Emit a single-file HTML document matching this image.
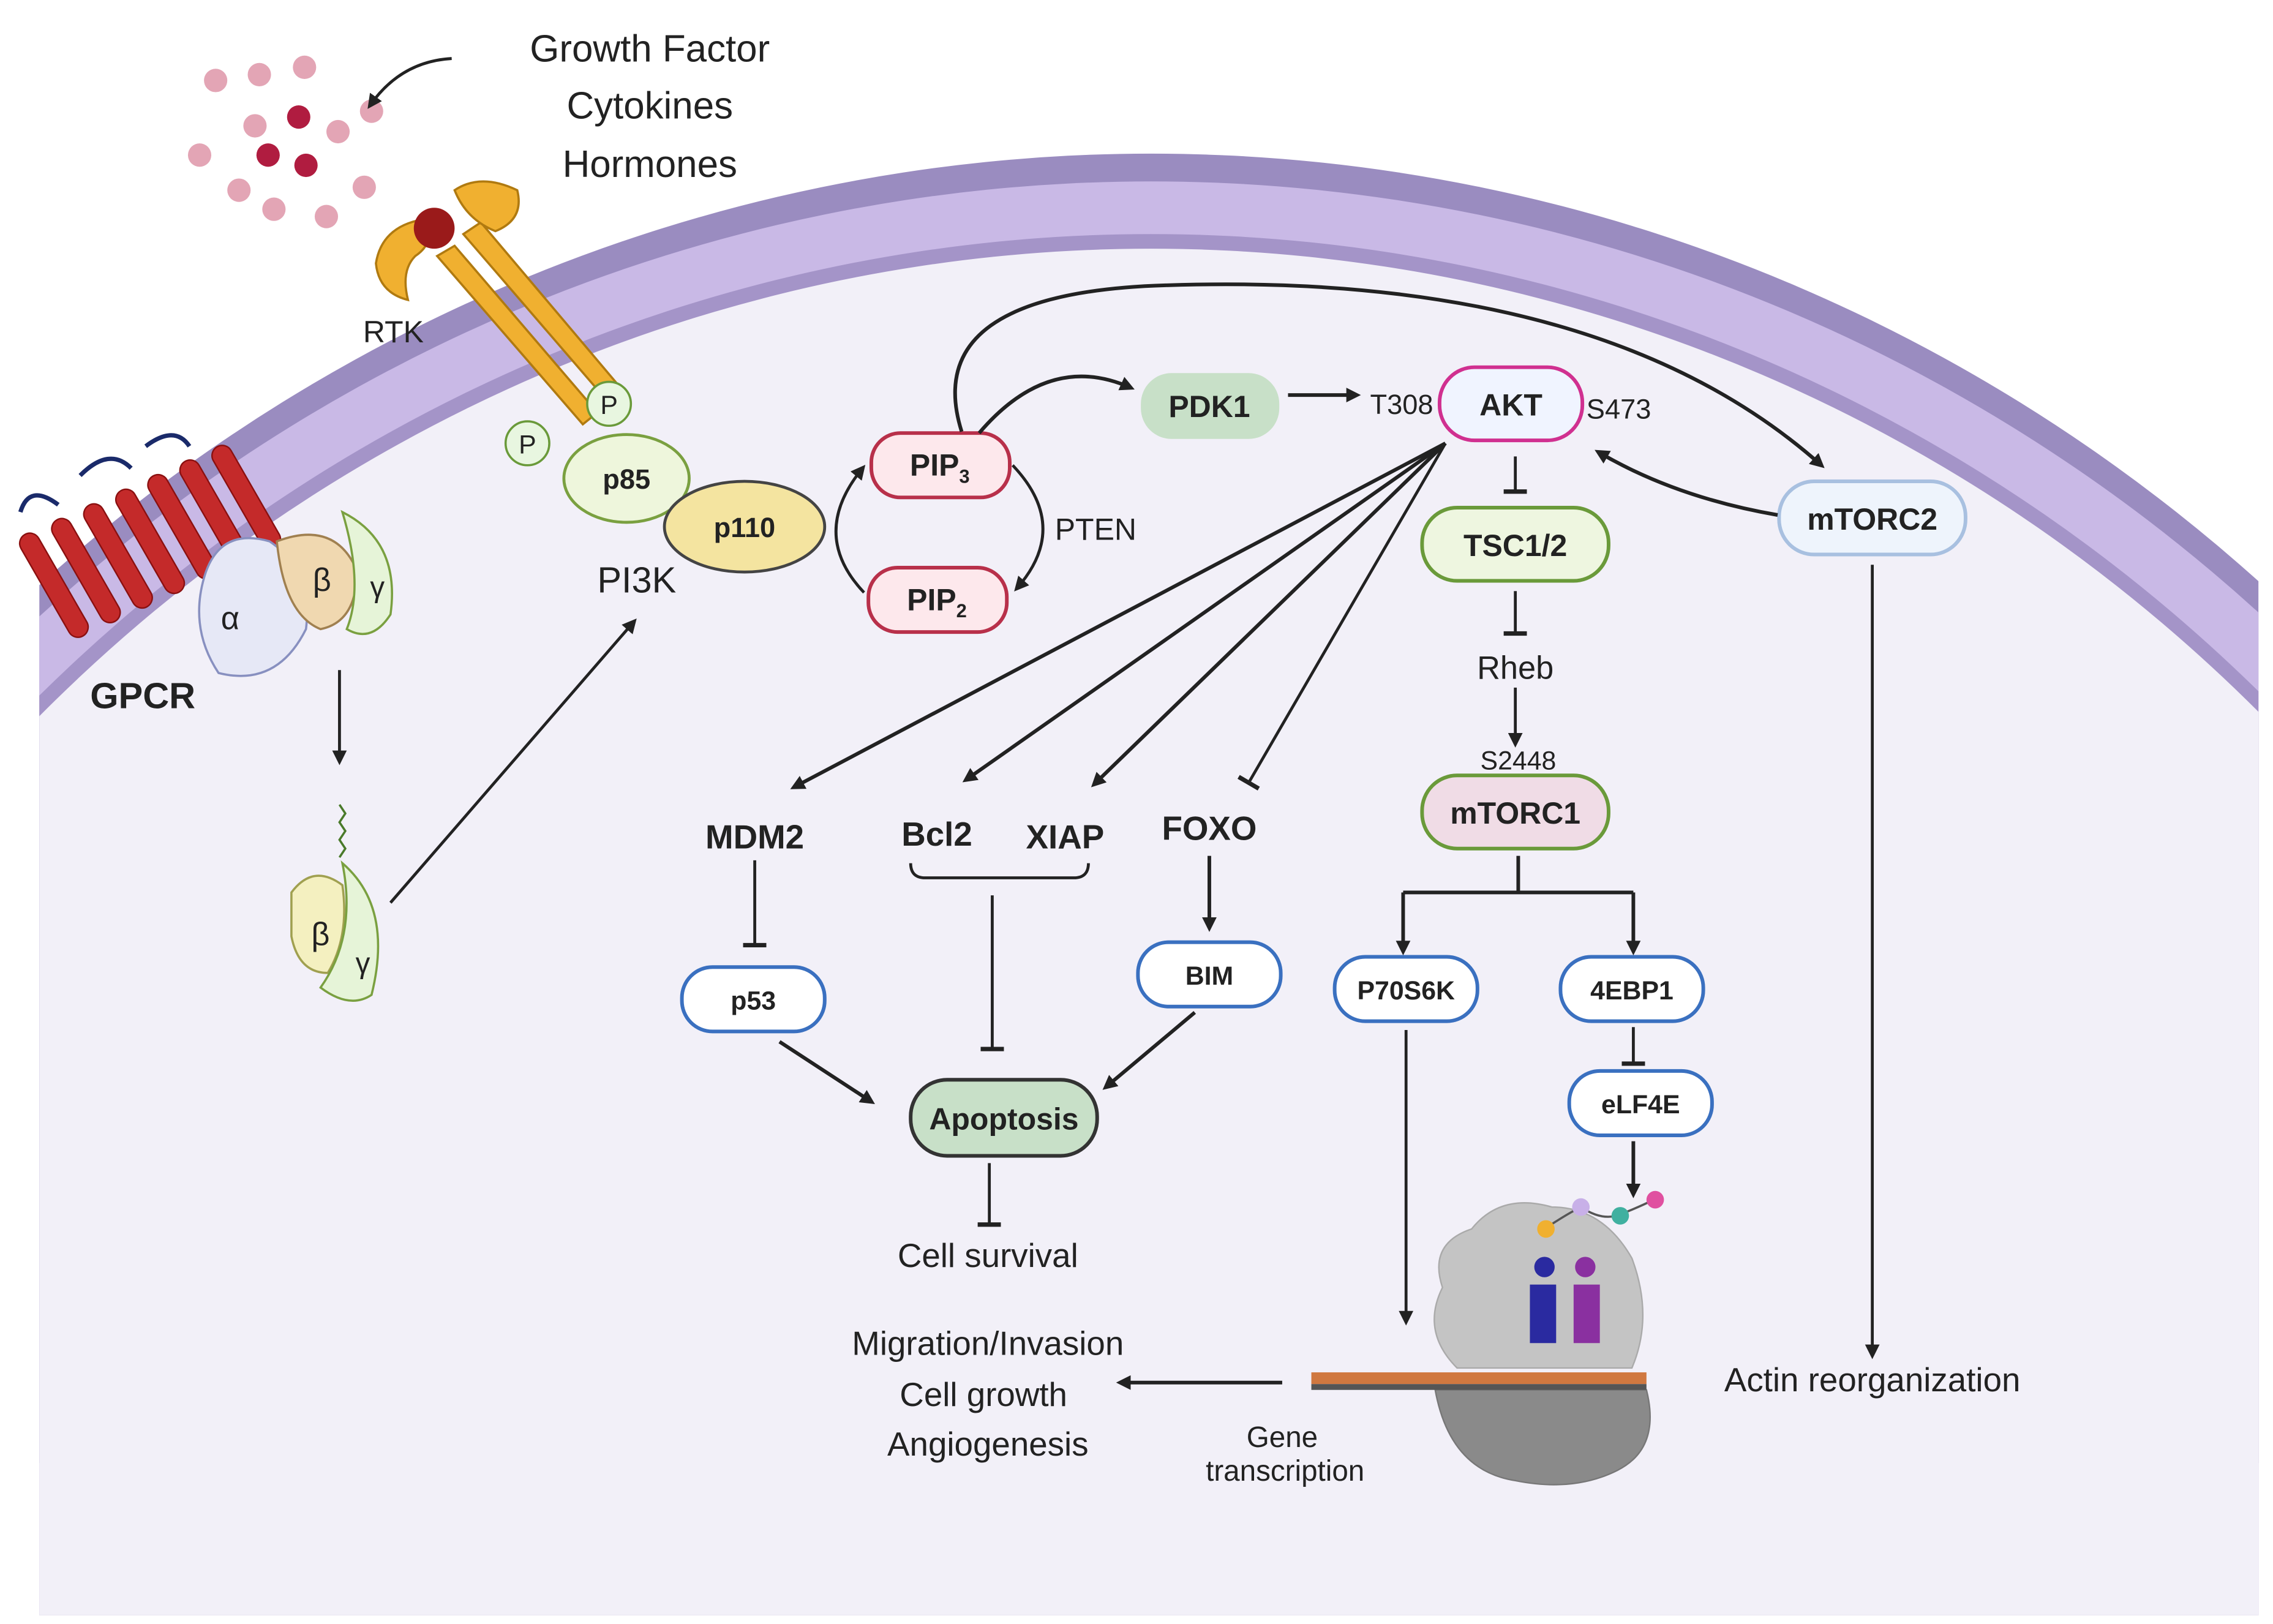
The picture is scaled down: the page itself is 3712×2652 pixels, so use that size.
<!DOCTYPE html>
<html><head><meta charset="utf-8"><style>
html,body{margin:0;padding:0;background:#fff;width:3712px;height:2652px;overflow:hidden;}
svg{display:block;}
text{font-family:"Liberation Sans",sans-serif;fill:#222;}
.b{font-weight:bold;}
</style></head><body>
<svg width="3712" height="2652" viewBox="0 0 1560 1110" preserveAspectRatio="none" xmlns="http://www.w3.org/2000/svg">
<defs>
<marker id="ar" markerWidth="10" markerHeight="10" refX="7" refY="5" orient="auto" markerUnits="userSpaceOnUse" viewBox="0 0 10 10"><path d="M0,0 L10,5 L0,10 z" fill="#222"/></marker>
<marker id="tb" markerWidth="16" markerHeight="16" refX="2" refY="8" orient="auto" markerUnits="userSpaceOnUse" viewBox="0 0 16 16"><path d="M2,0 L2,16" stroke="#222" stroke-width="3"/></marker>
<clipPath id="cl"><rect x="27" y="0" width="1523" height="1104"/></clipPath>
</defs>
<rect width="1560" height="1110" fill="#fff"/>
<g clip-path="url(#cl)">
<ellipse cx="790" cy="1300" rx="1160" ry="1195" fill="#9a8cc0"/>
<ellipse cx="790" cy="1300" rx="1148" ry="1176" fill="#c9b9e6"/>
<ellipse cx="790" cy="1300" rx="1105" ry="1140" fill="#a494c8"/>
<ellipse cx="790" cy="1300" rx="1095" ry="1130" fill="#f2f0f8"/>
</g>
<rect x="27" y="1000" width="1523" height="104" fill="#f2f0f8"/>

<g fill="#e3a5b5"><circle cx="148" cy="55" r="8"/><circle cx="178" cy="51" r="8"/><circle cx="209" cy="46" r="8"/><circle cx="175" cy="86" r="8"/><circle cx="232" cy="90" r="8"/><circle cx="255" cy="76" r="8"/><circle cx="137" cy="106" r="8"/><circle cx="164" cy="130" r="8"/><circle cx="188" cy="143" r="8"/><circle cx="224" cy="148" r="8"/><circle cx="250" cy="128" r="8"/></g>
<g fill="#b01c40"><circle cx="205" cy="80" r="8"/><circle cx="184" cy="106" r="8"/><circle cx="210" cy="113" r="8"/></g>
<path d="M310,40 Q275,42 254,72" fill="none" stroke="#222" stroke-width="2" marker-end="url(#ar)"/>
<text x="446" y="42" font-size="26" text-anchor="middle">Growth Factor</text>
<text x="446" y="81" font-size="26" text-anchor="middle">Cytokines</text>
<text x="446" y="121" font-size="26" text-anchor="middle">Hormones</text>

<g stroke="#b07a10" stroke-width="1.5" fill="#f0b030">
<path d="M300,175 L400,290 L410,282 L312,168 z"/>
<path d="M318,160 L415,272 L425,264 L330,152 z"/>
<path d="M258,180 Q262,155 290,150 Q300,165 285,175 Q275,185 280,205 Q260,200 258,180 z"/>
<path d="M312,130 Q330,118 355,130 Q360,150 340,158 Q320,150 312,130 z"/>
</g>
<circle cx="298" cy="156" r="14" fill="#9a1a1a"/>
<text x="270" y="234" font-size="21" text-anchor="middle">RTK</text>
<circle cx="362" cy="303" r="15" fill="#e8f6e0" stroke="#6a9a3a" stroke-width="1.5"/><text x="362" y="310" font-size="18" text-anchor="middle">P</text>
<circle cx="418" cy="276" r="15" fill="#e8f6e0" stroke="#6a9a3a" stroke-width="1.5"/><text x="418" y="283" font-size="18" text-anchor="middle">P</text>

<g fill="#c42a2a" stroke="#8a1010" stroke-width="1">
<rect x="30" y="360" width="14" height="80" rx="7" transform="rotate(-30 37 400)"/>
<rect x="52" y="350" width="14" height="80" rx="7" transform="rotate(-30 59 390)"/>
<rect x="74" y="340" width="14" height="80" rx="7" transform="rotate(-30 81 380)"/>
<rect x="96" y="330" width="14" height="80" rx="7" transform="rotate(-30 103 370)"/>
<rect x="118" y="320" width="14" height="80" rx="7" transform="rotate(-30 125 360)"/>
<rect x="140" y="310" width="14" height="80" rx="7" transform="rotate(-30 147 350)"/>
<rect x="162" y="300" width="14" height="80" rx="7" transform="rotate(-30 169 340)"/>
</g>
<path d="M14,350 Q20,330 40,345 M55,325 Q75,305 90,320 M100,305 Q120,290 130,305" fill="none" stroke="#1a2a6a" stroke-width="3"/>
<path d="M140,395 Q150,360 185,370 Q215,390 210,430 Q190,470 150,460 Q130,430 140,395 z" fill="#e6e8f6" stroke="#8890c0" stroke-width="1.5"/>
<path d="M190,370 Q230,355 245,390 Q245,425 220,430 Q195,420 190,370 z" fill="#f0d8b0" stroke="#a08050" stroke-width="1.5"/>
<path d="M235,350 Q275,370 268,420 Q255,440 238,430 Q250,400 235,350 z" fill="#e6f4d8" stroke="#7aa040" stroke-width="1.5"/>
<text x="158" y="430" font-size="22" text-anchor="middle">α</text>
<text x="221" y="404" font-size="22" text-anchor="middle">β</text>
<text x="259" y="408" font-size="20" text-anchor="middle">γ</text>
<text x="98" y="484" font-size="25" class="b" text-anchor="middle">GPCR</text>
<line x1="233" y1="458" x2="233" y2="520" stroke="#222" stroke-width="2" marker-end="url(#ar)"/>
<path d="M200,610 Q215,590 235,605 Q240,640 225,665 Q205,665 200,640 z" fill="#f4f0c0" stroke="#a0a050" stroke-width="1.5"/>
<path d="M235,590 Q270,620 255,680 Q240,690 220,675 Q245,640 235,590 z" fill="#e6f4d8" stroke="#7aa040" stroke-width="1.5"/>
<path d="M233,550 l4,6 l-4,6 l4,6 l-4,6 l4,6 l-4,6" fill="none" stroke="#4a7a2a" stroke-width="1.5"/>
<text x="220" y="646" font-size="22" text-anchor="middle">β</text>
<text x="249" y="665" font-size="20" text-anchor="middle">γ</text>
<line x1="268" y1="617" x2="435" y2="425" stroke="#222" stroke-width="2" marker-end="url(#ar)"/>

<ellipse cx="430" cy="327" rx="43" ry="30" fill="#eef6dc" stroke="#7aa040" stroke-width="2"/>
<text x="430" y="334" font-size="19" class="b" text-anchor="middle">p85</text>
<ellipse cx="511" cy="360" rx="55" ry="31" fill="#f4e4a0" stroke="#444" stroke-width="2"/>
<text x="511" y="367" font-size="19" class="b" text-anchor="middle">p110</text>
<text x="437" y="405" font-size="25" text-anchor="middle">PI3K</text>

<rect x="598" y="296" width="95" height="44" rx="20" fill="#fde8ec" stroke="#b8304a" stroke-width="2.5"/>
<text x="645" y="325" font-size="21" class="b" text-anchor="middle">PIP<tspan font-size="13" dy="5">3</tspan></text>
<rect x="596" y="388" width="95" height="44" rx="20" fill="#fde8ec" stroke="#b8304a" stroke-width="2.5"/>
<text x="643" y="417" font-size="21" class="b" text-anchor="middle">PIP<tspan font-size="13" dy="5">2</tspan></text>
<path d="M593,405 Q555,365 592,320" fill="none" stroke="#222" stroke-width="2" marker-end="url(#ar)"/>
<path d="M695,318 Q735,360 698,402" fill="none" stroke="#222" stroke-width="2" marker-end="url(#ar)"/>
<text x="752" y="369" font-size="21" text-anchor="middle">PTEN</text>
<path d="M672,296 Q720,240 776,265" fill="none" stroke="#222" stroke-width="2.5" marker-end="url(#ar)"/>
<path d="M660,295 Q630,200 800,195 Q1100,185 1250,318" fill="none" stroke="#222" stroke-width="2.5" marker-end="url(#ar)"/>

<rect x="783" y="255" width="95" height="45" rx="21" fill="#c8e0c8"/>
<text x="830" y="285" font-size="21" class="b" text-anchor="middle">PDK1</text>
<line x1="884" y1="270" x2="931" y2="270" stroke="#222" stroke-width="2.5" marker-end="url(#ar)"/>
<text x="962" y="283" font-size="19" text-anchor="middle">T308</text>
<rect x="988" y="251" width="98" height="50" rx="24" fill="#f0f4ff" stroke="#d03090" stroke-width="2.5"/>
<text x="1037" y="284" font-size="21" class="b" text-anchor="middle">AKT</text>
<text x="1111" y="286" font-size="19" text-anchor="middle">S473</text>

<rect x="1221" y="329" width="128" height="50" rx="24" fill="#eef4fc" stroke="#a8c0e0" stroke-width="2.5"/>
<text x="1285" y="362" font-size="21" class="b" text-anchor="middle">mTORC2</text>
<path d="M1220,352 Q1150,340 1097,309" fill="none" stroke="#222" stroke-width="2.5" marker-end="url(#ar)"/>
<line x1="1285" y1="386" x2="1285" y2="926" stroke="#222" stroke-width="2" marker-end="url(#ar)"/>
<text x="1285" y="951" font-size="23" text-anchor="middle">Actin reorganization</text>

<line x1="1040" y1="312" x2="1040" y2="336" stroke="#222" stroke-width="2" marker-end="url(#tb)"/>
<rect x="976" y="347" width="128" height="50" rx="24" fill="#eef6e0" stroke="#6a9a3a" stroke-width="2.5"/>
<text x="1040" y="380" font-size="21" class="b" text-anchor="middle">TSC1/2</text>
<line x1="1040" y1="404" x2="1040" y2="433" stroke="#222" stroke-width="2" marker-end="url(#tb)"/>
<text x="1040" y="464" font-size="22" text-anchor="middle">Rheb</text>
<line x1="1040" y1="470" x2="1040" y2="508" stroke="#222" stroke-width="2" marker-end="url(#ar)"/>
<text x="1042" y="526" font-size="18" text-anchor="middle">S2448</text>
<rect x="976" y="530" width="128" height="50" rx="24" fill="#f0dce6" stroke="#6a9a3a" stroke-width="2.5"/>
<text x="1040" y="563" font-size="21" class="b" text-anchor="middle">mTORC1</text>
<path d="M1042,585 L1042,610 M963,610 L1121,610" stroke="#222" stroke-width="2.5" fill="none"/>
<line x1="963" y1="610" x2="963" y2="650" stroke="#222" stroke-width="2.5" marker-end="url(#ar)"/>
<line x1="1121" y1="610" x2="1121" y2="650" stroke="#222" stroke-width="2.5" marker-end="url(#ar)"/>
<rect x="916" y="654" width="98" height="44" rx="21" fill="#fff" stroke="#3a70c0" stroke-width="2.5"/>
<text x="965" y="683" font-size="18" class="b" text-anchor="middle">P70S6K</text>
<rect x="1071" y="654" width="98" height="44" rx="21" fill="#fff" stroke="#3a70c0" stroke-width="2.5"/>
<text x="1120" y="683" font-size="18" class="b" text-anchor="middle">4EBP1</text>
<line x1="1121" y1="702" x2="1121" y2="727" stroke="#222" stroke-width="2" marker-end="url(#tb)"/>
<rect x="1077" y="732" width="98" height="44" rx="21" fill="#fff" stroke="#3a70c0" stroke-width="2.5"/>
<text x="1126" y="761" font-size="18" class="b" text-anchor="middle">eLF4E</text>
<line x1="1121" y1="780" x2="1121" y2="816" stroke="#222" stroke-width="2.5" marker-end="url(#ar)"/>
<line x1="965" y1="704" x2="965" y2="903" stroke="#222" stroke-width="2" marker-end="url(#ar)"/>

<path d="M990,880 Q980,850 1010,840 Q1030,815 1065,825 Q1100,825 1120,860 Q1135,900 1120,935 L1000,935 Q975,910 990,880 z" fill="#c4c4c4" stroke="#aaa"/>
<path d="M985,950 L1130,950 Q1140,990 1110,1005 Q1080,1020 1040,1012 Q995,1005 985,950 z" fill="#8a8a8a" stroke="#777"/>
<rect x="900" y="938" width="230" height="8" fill="#d07840"/>
<rect x="900" y="946" width="230" height="4" fill="#555"/>
<rect x="1050" y="878" width="18" height="40" fill="#2a2aa0"/><circle cx="1060" cy="866" r="7" fill="#2a2aa0"/>
<rect x="1080" y="878" width="18" height="40" fill="#8a30a0"/><circle cx="1088" cy="866" r="7" fill="#8a30a0"/>
<path d="M1060,840 Q1075,830 1085,825 Q1100,835 1112,830 Q1125,825 1135,820" fill="none" stroke="#555" stroke-width="1.5"/>
<circle cx="1061" cy="840" r="6" fill="#f0b030"/><circle cx="1085" cy="825" r="6" fill="#c8b0e8"/><circle cx="1112" cy="831" r="6" fill="#40b0a0"/><circle cx="1136" cy="820" r="6" fill="#e050a0"/>
<line x1="880" y1="945" x2="769" y2="945" stroke="#222" stroke-width="2.5" marker-end="url(#ar)"/>
<text x="880" y="989" font-size="20" text-anchor="middle">Gene</text>
<text x="882" y="1012" font-size="20" text-anchor="middle">transcription</text>
<text x="678" y="926" font-size="23" text-anchor="middle">Migration/Invasion</text>
<text x="675" y="961" font-size="23" text-anchor="middle">Cell growth</text>
<text x="678" y="995" font-size="23" text-anchor="middle">Angiogenesis</text>

<line x1="992" y1="303" x2="545" y2="538" stroke="#222" stroke-width="2.5" marker-end="url(#ar)"/>
<line x1="992" y1="303" x2="663" y2="533" stroke="#222" stroke-width="2.5" marker-end="url(#ar)"/>
<line x1="992" y1="303" x2="751" y2="536" stroke="#222" stroke-width="2.5" marker-end="url(#ar)"/>
<line x1="992" y1="303" x2="857" y2="535" stroke="#222" stroke-width="2" marker-end="url(#tb)"/>
<text x="518" y="580" font-size="23" class="b" text-anchor="middle">MDM2</text>
<text x="643" y="578" font-size="23" class="b" text-anchor="middle">Bcl2</text>
<text x="731" y="580" font-size="23" class="b" text-anchor="middle">XIAP</text>
<text x="830" y="574" font-size="23" class="b" text-anchor="middle">FOXO</text>
<line x1="518" y1="588" x2="518" y2="646" stroke="#222" stroke-width="2" marker-end="url(#tb)"/>
<path d="M625,590 Q625,600 635,600 L737,600 Q747,600 747,590" fill="none" stroke="#222" stroke-width="2"/>
<line x1="681" y1="612" x2="681" y2="717" stroke="#222" stroke-width="2" marker-end="url(#tb)"/>
<line x1="830" y1="585" x2="830" y2="634" stroke="#222" stroke-width="2.5" marker-end="url(#ar)"/>
<rect x="468" y="661" width="98" height="44" rx="21" fill="#fff" stroke="#3a70c0" stroke-width="2.5"/>
<text x="517" y="690" font-size="18" class="b" text-anchor="middle">p53</text>
<rect x="781" y="644" width="98" height="44" rx="21" fill="#fff" stroke="#3a70c0" stroke-width="2.5"/>
<text x="830" y="673" font-size="18" class="b" text-anchor="middle">BIM</text>
<line x1="535" y1="712" x2="598" y2="753" stroke="#222" stroke-width="2.5" marker-end="url(#ar)"/>
<line x1="820" y1="692" x2="759" y2="743" stroke="#222" stroke-width="2.5" marker-end="url(#ar)"/>
<rect x="625" y="738" width="128" height="52" rx="25" fill="#c8e0c8" stroke="#333" stroke-width="2.5"/>
<text x="689" y="772" font-size="21" class="b" text-anchor="middle">Apoptosis</text>
<line x1="679" y1="795" x2="679" y2="837" stroke="#222" stroke-width="2" marker-end="url(#tb)"/>
<text x="678" y="866" font-size="23" text-anchor="middle">Cell survival</text>
</svg>
</body></html>
